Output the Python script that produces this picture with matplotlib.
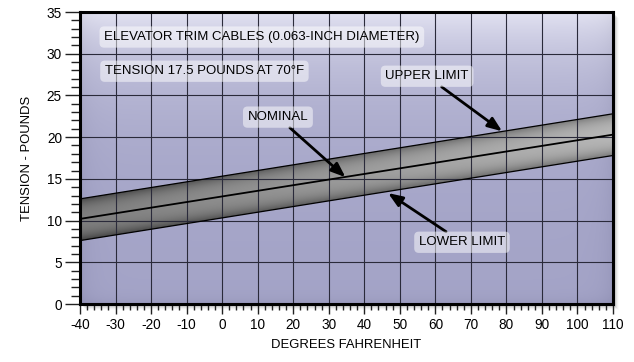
import numpy as np
import matplotlib
matplotlib.use("Agg")
import matplotlib.pyplot as plt
from matplotlib.patches import Rectangle, Polygon
from matplotlib.ticker import MultipleLocator

plt.rcParams['font.family'] = ['Liberation Sans', 'DejaVu Sans']
plt.rcParams['axes.unicode_minus'] = False

# Data
temps = [-40, 110]
nominal = [10.2, 20.3]
upper = [12.6, 22.8]
lower = [7.6, 17.8]
x_ticks = list(range(-40, 111, 10))
y_ticks = list(range(0, 36, 5))
title1 = "ELEVATOR TRIM CABLES (0.063-INCH DIAMETER)"
title2 = "TENSION 17.5 POUNDS AT 70°F"

fig = plt.figure(figsize=(6.34, 3.62), dpi=100)
fig.patch.set_facecolor('white')
ax = fig.add_axes([80/634, 58/362, 533/634, 292/362])
ax.set_zorder(2)
ax.set_xlim(-40, 110)
ax.set_ylim(0, 35)

# drop shadow
for i, a in enumerate([0.10, 0.08, 0.06, 0.04, 0.02]):
    off = 1.5 + i * 1.2
    sh = Rectangle((80/634 + off/634, 58/362 - off/362), 533/634, 292/362,
                   transform=fig.transFigure, facecolor='black', alpha=a,
                   edgecolor='none', zorder=0)
    fig.patches.append(sh)

# background gradient
H, W = 200, 200
yy = np.linspace(1, 0, H)[:, None] * np.ones((1, W))
xx = np.ones((H, 1)) * np.linspace(0, 1, W)[None, :]
t = 1 - yy
base = np.array([0.64, 0.64, 0.78])
light = np.exp(-t / 0.22)[..., None] * np.array([0.25, 0.25, 0.17])
edge = (np.exp(-xx / 0.02) + np.exp(-(1 - xx) / 0.02) + np.exp(-(1 - t) / 0.02))[..., None] * 0.04
img = np.clip(base + light - edge, 0, 1)
ax.imshow(img, extent=[0, 1, 0, 1], transform=ax.transAxes, aspect='auto',
          zorder=0, interpolation='bilinear')

# band with tube shading
xs = np.linspace(-40, 110, 300)
ys = np.linspace(5, 25, 300)
X, Y = np.meshgrid(xs, ys)
nom_y = np.interp(X, temps, nominal)
up_y = np.interp(X, temps, upper)
lo_y = np.interp(X, temps, lower)
s = np.where(Y >= nom_y, (Y - nom_y) / (up_y - nom_y), (nom_y - Y) / (nom_y - lo_y))
s = np.clip(s, 0, 1)
bx = 0.47 + 0.22 * (X + 40) / 150
g = bx - 0.20 * s ** 3 + 0.03 * (1 - s)
band_img = np.dstack([g, g, g])
im = ax.imshow(np.clip(band_img, 0, 1), extent=[-40, 110, 5, 25], origin='lower', aspect='auto',
               zorder=1, interpolation='bilinear')
poly_pts = list(zip(temps, upper)) + list(zip(temps[::-1], lower[::-1]))
poly = Polygon(poly_pts, closed=True, transform=ax.transData, facecolor='none', edgecolor='none')
ax.add_patch(poly)
im.set_clip_path(poly)

ax.plot(temps, upper, color='black', lw=0.9, zorder=3)
ax.plot(temps, lower, color='black', lw=0.9, zorder=3)
ax.plot(temps, nominal, color='black', lw=1.3, zorder=3)

# grid
for xv in x_ticks:
    ax.axvline(xv, color='#2a2a3a', lw=0.8, zorder=2)
for yv in y_ticks:
    ax.axhline(yv, color='#2a2a3a', lw=0.8, zorder=2)

ax.set_xticks(x_ticks)
ax.set_yticks(y_ticks)
ax.xaxis.set_minor_locator(MultipleLocator(2))
ax.yaxis.set_minor_locator(MultipleLocator(1))
ax.tick_params(axis='x', which='major', length=7, width=1.0, labelsize=9.8, pad=3, color='#222')
ax.tick_params(axis='x', which='minor', length=4.5, width=1.0, color='#222')
ax.tick_params(axis='y', which='major', length=11, width=1.0, labelsize=9.8, pad=2, color='#222')
ax.tick_params(axis='y', which='minor', length=6.5, width=1.0, color='#222')
for sp in ax.spines.values():
    sp.set_linewidth(2.2)
    sp.set_color('black')
    sp.set_zorder(5)

ax.set_xlabel("DEGREES FAHRENHEIT", fontsize=9.4, labelpad=5)
ax.set_ylabel("TENSION - POUNDS", fontsize=9.4, labelpad=10)

box = dict(boxstyle='round,pad=0.35', facecolor='white', alpha=0.5, edgecolor='none')
fs = 9.55
ax.text(-33.2, 32.0, title1, fontsize=fs, ha='left', va='center', bbox=box, zorder=6)
ax.text(-33.0, 27.9, title2, fontsize=fs, ha='left', va='center', bbox=box, zorder=6)

arrow = dict(arrowstyle='-|>,head_length=0.9,head_width=0.35', color='black', lw=2.0,
             shrinkA=0, shrinkB=0)
ax.annotate("NOMINAL", xy=(34.7, 15.2), xytext=(15.7, 22.4), fontsize=fs,
            ha='center', va='center', arrowprops=arrow, bbox=box, zorder=6)
ax.annotate("UPPER LIMIT", xy=(78.8, 20.7), xytext=(57.7, 27.3), fontsize=fs,
            ha='center', va='center', arrowprops=arrow, bbox=box, zorder=6)
ax.annotate("LOWER LIMIT", xy=(46.7, 13.3), xytext=(67.5, 7.4), fontsize=fs,
            ha='center', va='center', arrowprops=arrow, bbox=box, zorder=6)

fig.savefig("out.png", dpi=100, facecolor='white')
